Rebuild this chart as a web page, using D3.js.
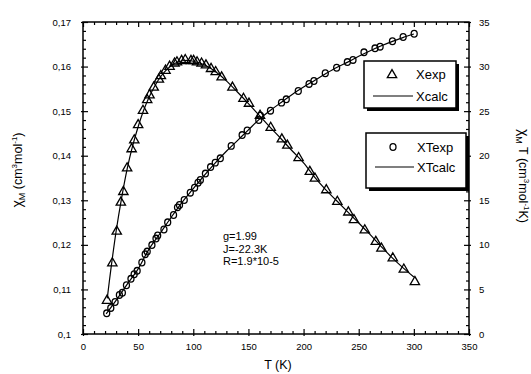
<!DOCTYPE html>
<html>
<head>
<meta charset="utf-8">
<script src="https://cdn.jsdelivr.net/npm/d3@7"></script>
<style>
  body { margin: 0; background: #fff; }
  svg { font-family: Arial, "Liberation Sans", sans-serif; }
</style>
</head>
<body>
<svg id="chart" width="531" height="374"></svg>
<script>
// measured susceptibility, chi_M (left axis)
const tChi = [21.8, 26.6, 30.6, 34.3, 36.6, 40, 44.1, 46.5, 50, 54.4, 58.2, 60.3, 64.1, 68.8, 70.6,
  74.8, 78.5, 83, 85.2, 89.4, 92.7, 97.9, 100.3, 103.4, 107.5, 111.5, 116.1, 120.3, 125.7, 135.5,
  145.5, 150.5, 160.5, 170.2, 180.3, 185.3, 195.5, 205.7, 210.3, 220.6, 230.6, 240.6, 245.7, 255.5,
  265.5, 270.6, 280.9, 290.9, 300.9];
const chiExp = [0.1075, 0.1159, 0.1230, 0.1295, 0.1319, 0.1372, 0.1415, 0.1435, 0.1469, 0.1501,
  0.1525, 0.1536, 0.1553, 0.1571, 0.1579, 0.1591, 0.1600, 0.1607, 0.1610, 0.1613, 0.1615, 0.1613,
  0.1613, 0.1610, 0.1607, 0.1603, 0.1595, 0.1588, 0.1576, 0.1553, 0.1528, 0.1517, 0.1490, 0.1463,
  0.1437, 0.1423, 0.1395, 0.1364, 0.1349, 0.1323, 0.1297, 0.1273, 0.1256, 0.1233, 0.1207, 0.1192,
  0.1170, 0.1145, 0.1117];

// fitted chi_M
const tCalc = [22, 25, 30, 35, 40, 45, 50, 55, 60, 65, 70, 75, 80, 85, 90, 95, 100, 110, 120, 130,
  140, 150, 160, 170, 180, 190, 200, 210, 220, 230, 240, 250, 260, 270, 280, 290, 300];
const chiCalc = [0.1080, 0.1140, 0.1230, 0.1305, 0.1370, 0.1422, 0.1465, 0.1502, 0.1532, 0.1556,
  0.1576, 0.1591, 0.1602, 0.1609, 0.1613, 0.1614, 0.1612, 0.1604, 0.1589, 0.1568, 0.1543, 0.1517,
  0.1490, 0.1463, 0.1437, 0.1410, 0.1384, 0.1352, 0.1324, 0.1299, 0.1274, 0.1249, 0.1224, 0.1197,
  0.1172, 0.1149, 0.1128];

// measured chi_M*T (right axis)
const tChiT = [21.5, 25.2, 29.1, 33, 35.7, 39.4, 43.5, 46.4, 49.1, 53.4, 56.4, 58.2, 62.5, 66.2,
  67.7, 73.4, 76.8, 82.1, 85.7, 87.5, 91.8, 97.3, 101.2, 104.3, 106.4, 111, 115.7, 119.9, 124.5,
  134.4, 144.3, 148.9, 159.4, 160.9, 170, 180, 184.3, 195.2, 205, 209.4, 219.7, 230, 239.7, 244.8,
  254.8, 264.8, 269.4, 280.6, 290.3, 300.3];
const chiTExp = [2.32, 2.92, 3.59, 4.38, 4.63, 5.47, 6.19, 6.70, 7.09, 8.02, 8.94, 9.25, 9.98, 10.71,
  11.05, 11.72, 12.53, 13.35, 14.21, 14.47, 15.03, 15.85, 16.41, 16.97, 17.28, 18.0, 18.73, 19.22,
  19.71, 21.10, 22.32, 22.83, 24.0, 24.5, 25.05, 25.95, 26.33, 27.26, 28.05, 28.38, 29.25, 29.87,
  30.51, 30.74, 31.60, 32.05, 32.23, 32.84, 33.32, 33.68];

// fitted chi_M*T
const tCalcT = [21, 30, 40, 50, 60, 70, 80, 90, 100, 110, 120, 130, 140, 150, 160, 170, 180, 190,
  200, 210, 220, 230, 240, 250, 260, 270, 280, 290, 300];
const chiTCalc = [2.25, 3.77, 5.57, 7.3, 9.55, 11.3, 13.1, 14.8, 16.3, 17.8, 19.2, 20.5, 21.7, 22.9,
  24.1, 25.1, 26.0, 26.9, 27.7, 28.45, 29.2, 29.9, 30.5, 31.15, 31.75, 32.3, 32.8, 33.25, 33.65];

const xTicks = [0, 50, 100, 150, 200, 250, 300, 350];
const yLeftTicks = [0.1, 0.11, 0.12, 0.13, 0.14, 0.15, 0.16, 0.17];
const yRightTicks = [0, 5, 10, 15, 20, 25, 30, 35];
const fitText = ['g=1.99', 'J=-22.3K', 'R=1.9*10-5'];

const svg = d3.select('#chart');
const margin = { top: 22, right: 62, bottom: 40, left: 83 };
const width = 531, height = 374;
const x0 = margin.left, x1 = width - margin.right, y0 = height - margin.bottom, y1 = margin.top;

const x = d3.scaleLinear().domain([0, 350]).range([x0, x1]);
const yL = d3.scaleLinear().domain([0.1, 0.17]).range([y0, y1]);
const yR = d3.scaleLinear().domain([0, 35]).range([y0, y1]);

const commaFmt = d => d3.format('.2~f')(d).replace('.', ',');

// minor tick positions
const xMinor = d3.range(0, 351, 10).filter(v => v % 50 !== 0);
const yLMinor = d3.range(0, 36).filter(v => v % 5 !== 0).map(v => 0.1 + v * 0.002);
const yRMinor = d3.range(0, 36).filter(v => v % 5 !== 0);

function styleAxis(g, fontSize) {
  g.select('.domain').remove();
  g.selectAll('line').attr('stroke', '#000').attr('stroke-width', 1.2);
  g.selectAll('text').attr('font-size', fontSize).attr('fill', '#000')
    .attr('font-family', 'Arial, "Liberation Sans", sans-serif');
}

// bottom
svg.append('g').attr('transform', `translate(0,${y0})`)
  .call(d3.axisBottom(x).tickValues(xTicks).tickSizeInner(-5).tickSizeOuter(0).tickPadding(9))
  .call(g => styleAxis(g, 9.5))
  .call(g => g.selectAll('.tick line').attr('y1', 2));
svg.append('g').attr('transform', `translate(0,${y0})`)
  .call(d3.axisBottom(x).tickValues(xMinor).tickSizeInner(-3).tickSizeOuter(0).tickFormat(''))
  .call(g => styleAxis(g, 9.5));
// top
svg.append('g').attr('transform', `translate(0,${y1})`)
  .call(d3.axisTop(x).tickValues(xTicks).tickSizeInner(-5).tickSizeOuter(0).tickFormat(''))
  .call(g => styleAxis(g, 9.5));
svg.append('g').attr('transform', `translate(0,${y1})`)
  .call(d3.axisTop(x).tickValues(xMinor).tickSizeInner(-3).tickSizeOuter(0).tickFormat(''))
  .call(g => styleAxis(g, 9.5));
// left
svg.append('g').attr('transform', `translate(${x0},0)`)
  .call(d3.axisLeft(yL).tickValues(yLeftTicks).tickSizeInner(-5).tickSizeOuter(0).tickPadding(12).tickFormat(commaFmt))
  .call(g => styleAxis(g, 9.5))
  .call(g => g.selectAll('.tick line').attr('x1', -2));
svg.append('g').attr('transform', `translate(${x0},0)`)
  .call(d3.axisLeft(yL).tickValues(yLMinor).tickSizeInner(-3).tickSizeOuter(0).tickFormat(''))
  .call(g => styleAxis(g, 9.5));
// right
svg.append('g').attr('transform', `translate(${x1},0)`)
  .call(d3.axisRight(yR).tickValues(yRightTicks).tickSizeInner(-5).tickSizeOuter(0).tickPadding(10))
  .call(g => styleAxis(g, 9.5))
  .call(g => g.selectAll('.tick line').attr('x1', 2));
svg.append('g').attr('transform', `translate(${x1},0)`)
  .call(d3.axisRight(yR).tickValues(yRMinor).tickSizeInner(-3).tickSizeOuter(0).tickFormat(''))
  .call(g => styleAxis(g, 9.5));

// frame
svg.append('rect')
  .attr('x', x0).attr('y', y1).attr('width', x1 - x0).attr('height', y0 - y1)
  .attr('fill', 'none').attr('stroke', '#000').attr('stroke-width', 1.5);

// calc curves
const lineL = d3.line().x(d => x(d[0])).y(d => yL(d[1])).curve(d3.curveCatmullRom);
const lineR = d3.line().x(d => x(d[0])).y(d => yR(d[1])).curve(d3.curveCatmullRom);
svg.append('path').datum(d3.zip(tCalc, chiCalc)).attr('d', lineL)
  .attr('fill', 'none').attr('stroke', '#000').attr('stroke-width', 1.2);
svg.append('path').datum(d3.zip(tCalcT, chiTCalc)).attr('d', lineR)
  .attr('fill', 'none').attr('stroke', '#000').attr('stroke-width', 1.2);

// markers
const tri = d3.symbol(d3.symbolTriangle, 38);
svg.append('g').selectAll('path')
  .data(d3.zip(tChi, chiExp))
  .enter().append('path')
    .attr('d', tri)
    .attr('transform', d => `translate(${x(d[0])},${yL(d[1])})`)
    .attr('fill', 'none').attr('stroke', '#000').attr('stroke-width', 1.3);
svg.append('g').selectAll('ellipse')
  .data(d3.zip(tChiT, chiTExp))
  .enter().append('ellipse')
    .attr('cx', d => x(d[0])).attr('cy', d => yR(d[1]))
    .attr('rx', 3).attr('ry', 3.3)
    .attr('fill', 'none').attr('stroke', '#000').attr('stroke-width', 1.3);

// fit parameters
fitText.forEach((t, i) => {
  svg.append('text').attr('x', 223).attr('y', 240 + i * 12.5).attr('font-size', 11).text(t);
});

// legends
function legendBox(bx, by, bw, bh) {
  svg.append('rect').attr('x', bx + 3).attr('y', by + 3).attr('width', bw).attr('height', bh).attr('fill', '#000');
  svg.append('rect').attr('x', bx).attr('y', by).attr('width', bw).attr('height', bh)
    .attr('fill', '#fff').attr('stroke', '#000').attr('stroke-width', 1.5);
}
legendBox(364, 61, 92, 47);
svg.append('path').attr('d', tri).attr('transform', 'translate(392,75)')
  .attr('fill', 'none').attr('stroke', '#000').attr('stroke-width', 1.3);
svg.append('line').attr('x1', 373).attr('x2', 413).attr('y1', 96).attr('y2', 96)
  .attr('stroke', '#000').attr('stroke-width', 1.2);
svg.append('text').attr('x', 416).attr('y', 79).attr('font-size', 13).text('Xexp');
svg.append('text').attr('x', 416).attr('y', 101).attr('font-size', 13).text('Xcalc');

legendBox(366, 133, 100, 55);
svg.append('ellipse').attr('cx', 393).attr('cy', 147).attr('rx', 3).attr('ry', 3.3)
  .attr('fill', 'none').attr('stroke', '#000').attr('stroke-width', 1.3);
svg.append('line').attr('x1', 375).attr('x2', 414).attr('y1', 167).attr('y2', 167)
  .attr('stroke', '#000').attr('stroke-width', 1.2);
svg.append('text').attr('x', 417).attr('y', 152).attr('font-size', 13).text('XTexp');
svg.append('text').attr('x', 417).attr('y', 172).attr('font-size', 13).text('XTcalc');

// axis titles
svg.append('text').attr('x', 278).attr('y', 369).attr('text-anchor', 'middle')
  .attr('font-size', 12.5).text('T (K)');

const lt = svg.append('text').attr('transform', 'translate(22,170) rotate(-90)')
  .attr('text-anchor', 'middle').attr('font-size', 12.5);
lt.append('tspan').attr('font-size', 14).text('χ');
lt.append('tspan').attr('font-size', 9).attr('dy', 3).text('M');
lt.append('tspan').attr('dy', -3).text(' (cm');
lt.append('tspan').attr('font-size', 8).attr('dy', -5).text('3');
lt.append('tspan').attr('dy', 5).text('mol');
lt.append('tspan').attr('font-size', 8).attr('dy', -5).text('-1');
lt.append('tspan').attr('dy', 5).text(')');

const rt = svg.append('text').attr('transform', 'translate(519,176) rotate(90)')
  .attr('text-anchor', 'middle').attr('font-size', 12.5);
rt.append('tspan').attr('font-size', 14).text('χ');
rt.append('tspan').attr('font-size', 9).attr('dy', 3).text('M');
rt.append('tspan').attr('dy', -3).text(' T (cm');
rt.append('tspan').attr('font-size', 8).attr('dy', -5).text('3');
rt.append('tspan').attr('dy', 5).text('mol');
rt.append('tspan').attr('font-size', 8).attr('dy', -5).text('-1');
rt.append('tspan').attr('dy', 5).text('K)');
</script>
</body>
</html>
